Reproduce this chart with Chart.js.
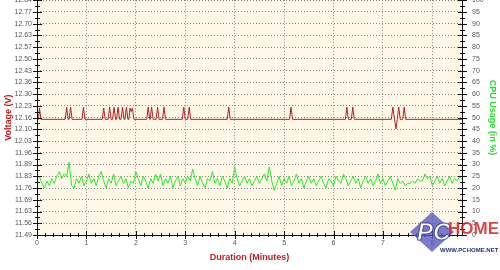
<!DOCTYPE html>
<html>
<head>
<meta charset="utf-8">
<script src="https://cdn.jsdelivr.net/npm/chart.js@4/dist/chart.umd.min.js"></script>
<style>
  html, body { margin: 0; padding: 0; background: #fff; overflow: hidden; }
  #wrap { width: 500px; height: 284px; margin-top: -14px; position: relative; }
</style>
</head>
<body>
<div id="wrap"><canvas id="myChart"></canvas></div>
<script>
// x axis (minutes)
const minuteTicks = [0, 1, 2, 3, 4, 5, 6, 7, 8];
const durationMax = 8.6;

// left axis labels (volts), bottom to top
const voltLabels = ["11.49", "11.56", "11.63", "11.69", "11.76", "11.83", "11.89", "11.96", "12.03", "12.10",
                    "12.16", "12.23", "12.30", "12.36", "12.43", "12.50", "12.57", "12.63", "12.70", "12.77", "12.84"];
const voltMin = 11.49, voltMax = 12.84;

// voltage trace: baseline with short spikes
const voltTimes = [0, 0.03, 0.05, 0.08,
  0.57, 0.60, 0.63, 0.65, 0.68, 0.71,
  0.91, 0.94, 0.97,
  1.32, 1.35, 1.38, 1.44, 1.47, 1.50, 1.53, 1.56, 1.59, 1.61, 1.64, 1.67,
  1.70, 1.73, 1.76, 1.78, 1.81, 1.84, 1.86, 1.88, 1.905, 1.93, 1.96,
  2.22, 2.25, 2.28, 2.29, 2.32, 2.35, 2.41, 2.44, 2.47, 2.54, 2.57, 2.60,
  2.94, 2.97, 3.00, 3.05, 3.08, 3.11,
  3.85, 3.88, 3.91,
  5.11, 5.14, 5.17,
  6.24, 6.27, 6.30, 6.36, 6.39, 6.42,
  7.17, 7.20, 7.235, 7.265, 7.29, 7.32, 7.35, 7.40, 7.43, 7.46,
  8.6];
const voltValues = [12.155, 12.155, 12.22, 12.155,
  12.155, 12.225, 12.155, 12.155, 12.225, 12.155,
  12.155, 12.225, 12.155,
  12.155, 12.22, 12.155, 12.155, 12.225, 12.155, 12.155, 12.225, 12.155, 12.155, 12.225, 12.155,
  12.155, 12.225, 12.155, 12.155, 12.225, 12.155, 12.155, 12.22, 12.20, 12.22, 12.155,
  12.155, 12.225, 12.155, 12.155, 12.225, 12.155, 12.155, 12.225, 12.155, 12.155, 12.225, 12.155,
  12.155, 12.225, 12.155, 12.155, 12.225, 12.155,
  12.155, 12.225, 12.155,
  12.155, 12.225, 12.155,
  12.155, 12.225, 12.155, 12.155, 12.225, 12.155,
  12.155, 12.225, 12.155, 12.10, 12.155, 12.225, 12.155, 12.155, 12.225, 12.155,
  12.155];

// CPU usage (%), one sample every 0.05 minutes
const cpuStep = 0.05;
const cpuValues = [
  24, 25, 22, 20, 23, 21, 24, 22, 25, 27, 24, 26, 25, 31, 21, 20, 24, 22, 25, 21,
  23, 26, 22, 24, 21, 25, 27, 23, 20, 24, 22, 26, 21, 23, 25, 22, 24, 20, 23, 22,
  27, 24, 21, 25, 23, 20, 24, 22, 26, 23, 26, 21, 24, 22, 25, 20, 23, 25, 21, 24,
  22, 25, 23, 28, 24, 21, 25, 22, 20, 24, 23, 27, 22, 24, 21, 25, 23, 20, 24, 22,
  29, 24, 21, 23, 25, 22, 24, 21, 23, 25, 22, 24, 26, 23, 29, 23, 19, 22, 25, 21,
  24, 22, 25, 21, 23, 26, 22, 24, 20, 23, 25, 22, 24, 21, 23, 25, 22, 20, 24, 23,
  21, 25, 23, 22, 26, 24, 21, 23, 25, 22, 24, 20, 23, 25, 22, 24, 21, 23, 26, 22,
  24, 21, 23, 25, 22, 19, 24, 22, 23, 21, 22, 22, 23, 22, 24, 23, 23, 26, 24, 25,
  21, 23, 25, 22, 24, 21, 23, 25, 22, 24, 23, 25, 24];

const cpuTicks = [0, 5, 10, 15, 20, 25, 30, 35, 40, 45, 50, 55, 60, 65, 70, 75, 80, 85, 90, 95, 100];

const tickFont = { family: "Liberation Sans", size: 7 };
const titleFont = { family: "Liberation Sans", size: 9, weight: "bold" };
const gridDots = "rgba(120,120,120,0.9)";

// cream plot background
const plotBg = {
  id: "plotBg",
  beforeDraw(chart) {
    const a = chart.chartArea, c = chart.ctx;
    c.save();
    c.fillStyle = "#fff8e8";
    c.fillRect(a.left, a.top, a.right - a.left, a.bottom - a.top);
    c.restore();
  }
};

// crossing major ticks, small minor ticks, solid axis lines
const tickMarks = {
  id: "tickMarks",
  afterDraw(chart) {
    const a = chart.chartArea, c = chart.ctx;
    const y = chart.scales.cpu, x = chart.scales.x;
    c.save();
    c.strokeStyle = "#111";
    c.lineWidth = 1;
    c.beginPath();
    c.moveTo(a.left + 0.5, a.top); c.lineTo(a.left + 0.5, a.bottom);
    c.moveTo(a.right + 0.5, a.top); c.lineTo(a.right + 0.5, a.bottom);
    c.moveTo(a.left, Math.round(a.bottom) + 0.5); c.lineTo(a.right, Math.round(a.bottom) + 0.5);
    cpuTicks.forEach((v, i) => {
      const py = Math.round(y.getPixelForValue(v)) + 0.5;
      [a.left, a.right].forEach(ax => { c.moveTo(ax - 4, py); c.lineTo(ax + 5, py); });
      if (i < cpuTicks.length - 1) {
        const my = Math.round(y.getPixelForValue(v + 2.5)) + 0.5;
        [a.left, a.right].forEach(ax => { c.moveTo(ax - 2, my); c.lineTo(ax + 3, my); });
      }
    });
    for (let k = 0; k / 6 <= durationMax; k++) {
      const px = Math.round(x.getPixelForValue(k / 6)) + 0.5;
      const len = k % 6 === 0 ? 4 : 2;
      c.moveTo(px, a.bottom - len); c.lineTo(px, a.bottom + len);
    }
    c.stroke();

    // watermark
    c.fillStyle = "rgba(90,90,190,0.8)";
    c.beginPath();
    c.moveTo(410, 246); c.lineTo(432, 226); c.lineTo(454, 246); c.lineTo(432, 266); c.closePath();
    c.fill();
    c.font = "italic bold 24px 'Liberation Sans'";
    c.fillStyle = "#fff";
    c.strokeStyle = "rgba(60,60,150,0.9)";
    c.fillText("PC", 417, 254);
    c.strokeText("PC", 417, 254);
    c.font = "bold 17px 'Liberation Sans'";
    c.fillStyle = "rgba(210,40,40,0.85)";
    c.fillText("HOME", 448, 248);
    c.font = "bold 6px 'Liberation Sans'";
    c.fillStyle = "#223388";
    c.fillText("WWW.PCHOME.NET", 440, 266);
    c.restore();
  }
};

const ctx = document.getElementById("myChart").getContext("2d");
new Chart(ctx, {
  type: "line",
  data: {
    datasets: [{
      label: "Voltage",
      data: voltTimes.map((t, i) => ({ x: t, y: voltValues[i] })),
      yAxisID: "volt",
      borderColor: "rgb(175,35,35)",
      borderWidth: 1,
      pointRadius: 0,
      tension: 0
    }, {
      label: "CPU Usage",
      data: cpuValues.map((v, i) => ({ x: i * cpuStep, y: v })),
      yAxisID: "cpu",
      borderColor: "rgb(40,235,40)",
      borderWidth: 1,
      pointRadius: 0,
      tension: 0
    }]
  },
  options: {
    responsive: true,
    maintainAspectRatio: false,
    animation: false,
    layout: { padding: 0 },
    plugins: { legend: { display: false }, tooltip: { enabled: false } },
    scales: {
      x: {
        type: "linear",
        min: 0,
        max: durationMax,
        afterBuildTicks: s => { s.ticks = minuteTicks.map(v => ({ value: v })); },
        afterFit: s => { s.height = 35; },
        ticks: { font: tickFont, color: "#555", padding: 4, maxRotation: 0, autoSkip: false },
        grid: { color: gridDots, drawTicks: false },
        border: { display: false, dash: [1, 2] },
        title: { display: true, text: "Duration (Minutes)", color: "rgb(190,30,30)", font: titleFont, padding: { top: 0, bottom: 7 } }
      },
      volt: {
        type: "linear",
        position: "left",
        min: voltMin,
        max: voltMax,
        afterBuildTicks: s => { s.ticks = voltLabels.map((l, i) => ({ value: voltMin + i * (voltMax - voltMin) / 20 })); },
        afterFit: s => { s.width = 37; },
        ticks: { font: tickFont, color: "#555", padding: 5, autoSkip: false, callback: (v, i) => voltLabels[i] },
        grid: { display: false, drawTicks: false },
        border: { display: false },
        title: { display: true, text: "Voltage (V)", color: "rgb(190,30,30)", font: titleFont, padding: { top: 3, bottom: 0 } }
      },
      cpu: {
        type: "linear",
        position: "right",
        min: 0,
        max: 100,
        afterBuildTicks: s => { s.ticks = cpuTicks.map(v => ({ value: v })); },
        afterFit: s => { s.width = 38; },
        ticks: { font: tickFont, color: "#555", padding: 10, autoSkip: false },
        grid: { color: gridDots, drawTicks: false },
        border: { display: false, dash: [1, 2] },
        title: { display: true, text: "CPU Usage (in %)", color: "rgb(40,220,40)", font: titleFont, padding: { top: 2, bottom: 0 } }
      }
    }
  },
  plugins: [plotBg, tickMarks]
});
</script>
</body>
</html>
